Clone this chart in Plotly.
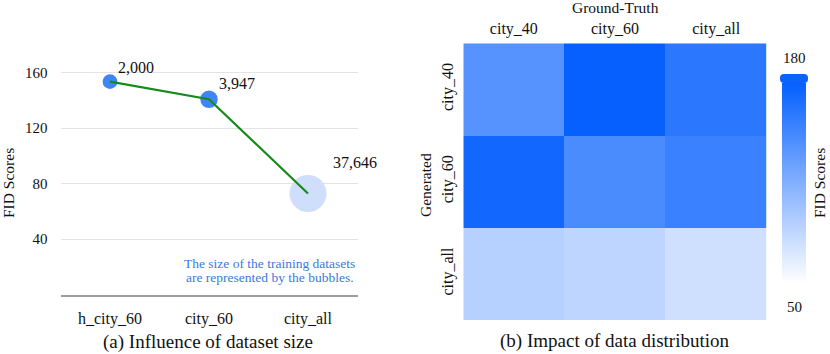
import plotly.graph_objects as go

# (a) dataset size vs FID
models = ["h_city_60", "city_60", "city_all"]
fid_scores = [153.4, 140.7, 72.8]
dataset_sizes = [2000, 3947, 37646]

# (b) FID heatmap: rows = generated, cols = ground truth
gt_labels = ["city_40", "city_60", "city_all"]
gen_labels = ["city_40", "city_60", "city_all"]
fid_matrix = [
    [138, 180, 160],
    [174, 144, 153],
    [88, 84, 75],
]
scale_range = [50, 180]

W, H = 830, 354
FONT = "Liberation Serif"


def px(x):
    return x / W


def py(y):
    return 1 - y / H


def serif(size, color="#111"):
    return dict(family=FONT, size=size, color=color)


def rounded_rect(x0, y0, x1, y1, r):
    pts = [
        ("M", [(x0 + r, y0)]), ("L", [(x1 - r, y0)]), ("Q", [(x1, y0), (x1, y0 + r)]),
        ("L", [(x1, y1 - r)]), ("Q", [(x1, y1), (x1 - r, y1)]), ("L", [(x0 + r, y1)]),
        ("Q", [(x0, y1), (x0, y1 - r)]), ("L", [(x0, y0 + r)]), ("Q", [(x0, y0), (x0 + r, y0)]),
    ]
    s = ""
    for cmd, coords in pts:
        s += cmd + " ".join(f"{px(a):.5f},{py(b):.5f}" for a, b in coords) + " "
    return s + "Z"


def label(x, y, text, size=15.5, angle=0, color="#111", xanchor="center"):
    return dict(x=px(x), y=py(y), xref="paper", yref="paper", text=text, textangle=angle,
                xanchor=xanchor, yanchor="middle", showarrow=False, font=serif(size, color))


fig = go.Figure()

# bubbles (diameter grows with sqrt of dataset size)
bubble_d = [8 + 0.15 * s ** 0.5 for s in dataset_sizes]
fig.add_trace(go.Scatter(
    x=models, y=fid_scores, mode="markers",
    marker=dict(size=bubble_d, sizemode="diameter", opacity=1,
                color=["#3f85f5", "#3f85f5", "#cfdffb"], line=dict(width=0)),
    xaxis="x", yaxis="y", showlegend=False, hoverinfo="skip"))
fig.add_trace(go.Scatter(
    x=models, y=fid_scores, mode="lines",
    line=dict(color="#178a1c", width=2.2),
    xaxis="x", yaxis="y", showlegend=False))

fig.add_trace(go.Heatmap(
    z=fid_matrix, x=gt_labels, y=gen_labels,
    zmin=scale_range[0], zmax=scale_range[1],
    colorscale=[[0, "#ffffff"], [1, "#0560fe"]],
    xaxis="x2", yaxis="y2",
    colorbar=dict(thickness=24, thicknessmode="pixels", len=200, lenmode="pixels",
                  x=px(782), xanchor="left", xpad=0, y=py(183), yanchor="middle", ypad=0,
                  outlinewidth=0, showticklabels=False, ticks=""),
))

label_offsets = [(6, 14), (8, 16), (23, 31)]
annotations = []
for m, v, s, (dx, dy) in zip(models, fid_scores, dataset_sizes, label_offsets):
    annotations.append(dict(x=m, y=v, xref="x", yref="y", text=f"{s:,}", showarrow=False,
                            xanchor="left", yanchor="middle", xshift=dx, yshift=dy,
                            font=serif(16)))

annotations += [
    label(357, 263, "The size of the training datasets", 13.5, color="#3d78dc", xanchor="right"),
    label(356, 277, "are represented by the bubbles.", 13.5, color="#3d78dc", xanchor="right"),
    label(9, 183, "FID Scores", angle=-90),
    label(208, 342, "(a) Influence of dataset size", 19),
    label(614, 341, "(b) Impact of data distribution", 19),
    label(615, 7.5, "Ground-Truth"),
    label(425, 185, "Generated", angle=-90),
    label(820, 183, "FID Scores", angle=-90),
    label(794, 58, str(scale_range[1]), 15),
    label(794, 307, str(scale_range[0]), 15),
]

fig.update_layout(
    width=W, height=H, margin=dict(l=0, r=0, t=0, b=0, pad=0, autoexpand=False),
    paper_bgcolor="white", plot_bgcolor="white",
    font=serif(15),
    xaxis=dict(domain=[px(60.5), px(357.5)], range=[-0.5, 2.5], anchor="y", showgrid=False,
               showline=True, linecolor="#9e9e9e", linewidth=2, zeroline=False,
               ticks="", ticklabelstandoff=8, tickfont=serif(16), automargin=False),
    yaxis=dict(domain=[py(294.5), py(50.3)], range=[0, 176], anchor="x",
               tickvals=[40, 80, 120, 160], automargin=False,
               showgrid=True, gridcolor="#e3e3e3", gridwidth=1, zeroline=False,
               showline=False, ticks="", ticklabelstandoff=12, tickfont=serif(15)),
    xaxis2=dict(domain=[px(463.3), px(766.7)], anchor="y2", side="top", showgrid=False,
                zeroline=False, showline=False, ticks="", ticklabelstandoff=5,
                tickfont=serif(16), automargin=False),
    yaxis2=dict(domain=[py(320), py(43.3)], anchor="x2", autorange="reversed",
                showgrid=False, zeroline=False, showline=False, ticks="", tickangle=-90,
                ticklabelstandoff=6, tickfont=serif(16), automargin=False),
    annotations=annotations,
    shapes=[dict(type="path", xref="paper", yref="paper",
                 path=rounded_rect(780, 74, 808, 83, 4),
                 fillcolor="#0b63fb", line=dict(width=0))],
)

fig.write_html("out.html", config={"displayModeBar": False},
               post_script="document.body.style.margin='0';")
